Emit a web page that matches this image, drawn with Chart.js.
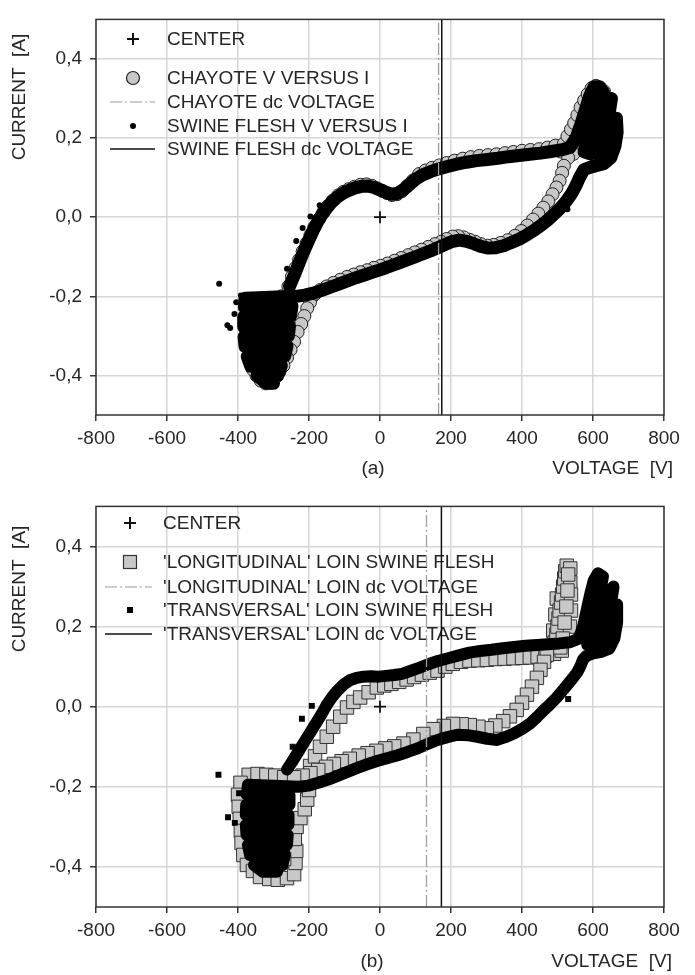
<!DOCTYPE html>
<html>
<head>
<meta charset="utf-8">
<script src="https://cdn.jsdelivr.net/npm/chart.js@4.4.1/dist/chart.umd.min.js"></script>
<style>
  body { margin: 0; background: #fff; }
  .panel { position: relative; width: 695px; }
  canvas { display: block; }
</style>
</head>
<body>
<div class="panel" style="height:487px"><canvas id="chartA" width="695" height="487"></canvas></div>
<div class="panel" style="height:488px"><canvas id="chartB" width="695" height="488"></canvas></div>
<script>
// axis ticks
const xTicks = [-800, -600, -400, -200, 0, 200, 400, 600, 800];
const yTicks = [-0.4, -0.2, 0, 0.2, 0.4];

// (a) chayote, V versus I  [V, A]
const chayoteA = [
  [-190,-0.2],[-197,-0.215],[-205,-0.23],[-213,-0.25],[-222,-0.27],[-232,-0.29],[-242,-0.315],[-252,-0.335],
  [-262,-0.355],[-272,-0.375],[-283,-0.39],[-295,-0.405],[-308,-0.418],[-322,-0.42],[-336,-0.413],[-348,-0.4],
  [-358,-0.385],[-365,-0.365],[-360,-0.34],[-350,-0.31],[-338,-0.28],[-322,-0.25],[-300,-0.225],[-278,-0.2],
  [-258,-0.175],[-248,-0.15],[-238,-0.128],[-228,-0.108],[-218,-0.087],[-207,-0.066],[-196,-0.045],[-185,-0.025],
  [-172,-0.005],[-160,0.012],[-147,0.028],[-133,0.042],[-118,0.055],[-103,0.064],[-88,0.071],[-72,0.077],
  [-55,0.082],[-38,0.083],[-22,0.079],[-8,0.073],[6,0.067],[20,0.061],[34,0.056],[48,0.058],[62,0.066],
  [77,0.079],[93,0.093],[110,0.109],[128,0.118],[147,0.125],[167,0.131],[188,0.137],[210,0.143],[233,0.148],
  [256,0.152],[280,0.155],[304,0.157],[328,0.159],[352,0.162],[376,0.165],[400,0.168],[424,0.17],[448,0.172],
  [472,0.176],[494,0.181],[509,0.166],[518,0.186],[528,0.205],[538,0.222],[547,0.238],[556,0.258],[565,0.278],
  [575,0.295],[585,0.311],[596,0.326],[608,0.332],[620,0.328],[631,0.318],[618,0.3],[605,0.28],[595,0.255],
  [585,0.23],[575,0.2],[560,0.18],[545,0.16],[530,0.15],[518,0.13],[513,0.112],[506,0.092],[497,0.075],
  [486,0.058],[474,0.04],[460,0.024],[446,0.009],[431,-0.006],[415,-0.021],[398,-0.035],[380,-0.047],
  [360,-0.058],[340,-0.065],[320,-0.07],[302,-0.072],[284,-0.068],[268,-0.062],[252,-0.057],[236,-0.051],
  [220,-0.048],[205,-0.049],[188,-0.055],[172,-0.062],[155,-0.068],[136,-0.075],[117,-0.082],[98,-0.089],
  [79,-0.096],[60,-0.103],[41,-0.11],[21,-0.117],[2,-0.123],[-17,-0.128],[-36,-0.134],[-55,-0.139],
  [-74,-0.145],[-93,-0.151],[-112,-0.158],[-131,-0.166],[-150,-0.175],[-168,-0.184],[-182,-0.193]
];

// (a) swine flesh, V versus I, in loop order
const swineA = [
  [-255,-0.175],[-243,-0.15],[-232,-0.125],[-221,-0.1],[-210,-0.077],[-199,-0.055],[-188,-0.033],[-176,-0.012],
  [-163,0.007],[-150,0.023],[-136,0.038],[-120,0.051],[-104,0.061],[-88,0.068],[-70,0.074],[-52,0.078],
  [-34,0.079],[-17,0.075],[0,0.069],[16,0.063],[32,0.058],[48,0.06],[64,0.068],[82,0.082],[100,0.096],
  [120,0.107],[142,0.115],[165,0.122],[190,0.128],[216,0.134],[244,0.139],[272,0.143],[302,0.146],[332,0.149],
  [362,0.153],[392,0.156],[422,0.159],[452,0.162],[482,0.166],[510,0.17],[535,0.176],
  [552,0.2],[566,0.235],[578,0.27],[590,0.305],[603,0.33],[617,0.33],[630,0.315],[620,0.29],[606,0.26],
  [594,0.23],[582,0.195],[575,0.165],[592,0.16],[602,0.195],[614,0.23],[626,0.265],[640,0.295],[652,0.3],
  [646,0.265],[636,0.23],[624,0.195],[612,0.16],[630,0.15],[644,0.18],[656,0.215],[666,0.25],[668,0.215],
  [662,0.18],[650,0.15],[630,0.135],[608,0.13],[588,0.125],[574,0.12],
  [562,0.1],[552,0.08],[540,0.06],[526,0.042],[510,0.025],[493,0.01],[475,-0.005],[456,-0.019],[436,-0.032],
  [415,-0.044],[393,-0.055],[370,-0.064],[348,-0.072],[326,-0.077],[305,-0.078],[284,-0.074],[264,-0.067],
  [244,-0.061],[224,-0.058],[205,-0.061],[186,-0.068],[166,-0.076],[145,-0.084],[123,-0.092],[100,-0.1],
  [76,-0.108],[52,-0.116],[28,-0.124],[4,-0.132],[-20,-0.139],[-44,-0.146],[-68,-0.153],[-92,-0.161],
  [-116,-0.169],[-140,-0.177],[-164,-0.185],[-188,-0.192],[-212,-0.197],[-236,-0.2],
  [-380,-0.205],[-382,-0.228],[-248,-0.225],[-252,-0.25],[-384,-0.252],[-384,-0.277],[-255,-0.275],
  [-258,-0.3],[-383,-0.302],[-380,-0.327],[-262,-0.325],[-268,-0.35],[-374,-0.352],[-364,-0.377],
  [-278,-0.375],[-288,-0.4],[-346,-0.4],[-320,-0.42],[-300,-0.42]
];
const swineStrayA = [
  [-453,-0.168],[-430,-0.273],[-422,-0.28],[-410,-0.245],[-405,-0.215],[-196,0.002],[-218,-0.027],[528,0.02],
  [-236,-0.06],[-170,0.03],[-262,-0.13],[-392,-0.198]
];

// (b) longitudinal loin
const longB = [
  [-370,-0.17],[-345,-0.168],[-320,-0.17],[-295,-0.172],[-270,-0.176],[-393,-0.19],[-400,-0.22],[-398,-0.25],
  [-395,-0.28],[-392,-0.31],[-390,-0.34],[-385,-0.37],[-375,-0.395],[-358,-0.41],[-338,-0.425],[-312,-0.43],
  [-288,-0.432],[-262,-0.428],[-242,-0.418],[-238,-0.39],[-236,-0.36],[-240,-0.33],[-235,-0.3],[-224,-0.278],
  [-212,-0.256],[-205,-0.232],[-200,-0.208],[-216,-0.19],[-350,-0.22],[-300,-0.25],[-340,-0.3],[-290,-0.33],
  [-320,-0.37],[-270,-0.38],[-270,-0.24],
  [-197,-0.148],[-183,-0.124],[-169,-0.1],[-150,-0.075],[-132,-0.05],[-112,-0.025],[-93,-0.002],[-75,0.012],
  [-56,0.023],[-32,0.036],[-9,0.048],[12,0.053],[32,0.057],[54,0.062],[75,0.068],[96,0.074],[118,0.08],
  [140,0.085],[162,0.09],[184,0.1],[205,0.107],[228,0.112],[252,0.115],[277,0.116],[301,0.117],[326,0.119],
  [351,0.12],[376,0.121],[400,0.122],[422,0.123],[444,0.125],[466,0.128],[490,0.132],[512,0.14],
  [480,0.15],[488,0.19],[494,0.23],[498,0.27],[492,0.16],[497,0.18],[500,0.2],[503,0.22],[506,0.24],
  [510,0.26],[513,0.28],[516,0.3],[519,0.32],[522,0.338],[526,0.352],[536,0.345],[536,0.31],[538,0.28],
  [538,0.24],[535,0.2],[530,0.33],[528,0.29],[525,0.25],[520,0.21],[515,0.17],[508,0.148],
  [470,0.13],[462,0.112],[452,0.092],[442,0.072],[428,0.05],[414,0.03],[400,0.01],[385,-0.008],[366,-0.024],
  [347,-0.036],[325,-0.047],[301,-0.054],[277,-0.05],[253,-0.046],[230,-0.044],[206,-0.043],[180,-0.048],
  [150,-0.056],[122,-0.068],[94,-0.082],[66,-0.092],[40,-0.099],[15,-0.104],[-10,-0.11],[-35,-0.116],
  [-60,-0.122],[-85,-0.13],[-108,-0.136],[-130,-0.143],[-152,-0.15],[-174,-0.158],[-196,-0.166],[-218,-0.172],
  [-242,-0.176]
];

// (b) transversal loin, in loop order
const transB = [
  [-262,-0.157],[-248,-0.138],[-234,-0.118],[-220,-0.098],[-206,-0.078],[-192,-0.058],[-178,-0.038],[-163,-0.016],
  [-149,0.006],[-135,0.024],[-120,0.04],[-103,0.055],[-85,0.066],[-66,0.072],[-46,0.075],[-25,0.076],[-4,0.075],
  [18,0.077],[40,0.079],[62,0.082],[85,0.089],[110,0.097],[136,0.106],[163,0.114],[192,0.121],[222,0.128],
  [252,0.135],[282,0.139],[314,0.142],[346,0.146],[378,0.149],[410,0.152],[442,0.154],[474,0.156],[505,0.158],
  [535,0.161],[560,0.17],
  [572,0.2],[582,0.24],[592,0.28],[602,0.315],[614,0.333],[628,0.325],[622,0.295],[610,0.26],[600,0.225],
  [590,0.19],[584,0.155],[602,0.15],[612,0.185],[624,0.22],[636,0.255],[648,0.29],[658,0.3],[652,0.265],
  [642,0.23],[632,0.195],[622,0.16],[640,0.15],[654,0.18],[664,0.22],[668,0.255],[668,0.21],[660,0.17],
  [646,0.145],[624,0.137],[600,0.133],[582,0.127],
  [572,0.118],[564,0.1],[555,0.085],[542,0.07],[527,0.054],[512,0.038],[497,0.022],[479,0.006],[460,-0.01],
  [442,-0.026],[423,-0.042],[401,-0.055],[377,-0.067],[353,-0.076],[330,-0.083],[302,-0.08],[274,-0.075],
  [246,-0.071],[218,-0.07],[190,-0.076],[162,-0.083],[134,-0.093],[106,-0.104],[78,-0.113],[50,-0.121],
  [22,-0.128],[-6,-0.135],[-34,-0.143],[-62,-0.152],[-90,-0.162],[-118,-0.172],[-146,-0.182],[-174,-0.19],
  [-202,-0.197],[-228,-0.2],
  [-372,-0.195],[-375,-0.22],[-255,-0.22],[-255,-0.245],[-377,-0.245],[-378,-0.27],[-258,-0.27],[-258,-0.295],
  [-378,-0.295],[-376,-0.32],[-260,-0.32],[-262,-0.345],[-372,-0.345],[-366,-0.37],[-268,-0.37],[-275,-0.395],
  [-355,-0.395],[-330,-0.412],[-290,-0.412]
];
const transStrayB = [
  [-455,-0.17],[-428,-0.276],[-409,-0.29],[-397,-0.216],[-246,-0.1],[-220,-0.03],[-192,0.002],[530,0.019]
];

// dc voltages [V]
const dcA = { chayote: 165, swine: 174 };
const dcB = { longitudinal: 131, transversal: 173 };
const centerPoint = [[0, 0]];

const legendA = ['CENTER', 'CHAYOTE V VERSUS I', 'CHAYOTE dc VOLTAGE', 'SWINE FLESH V VERSUS I', 'SWINE FLESH dc VOLTAGE'];
const legendB = ['CENTER', "'LONGITUDINAL' LOIN SWINE FLESH", "'LONGITUDINAL' LOIN dc VOLTAGE", "'TRANSVERSAL' LOIN SWINE FLESH", "'TRANSVERSAL' LOIN dc VOLTAGE"];

const FONT = '"Liberation Sans", Arial, sans-serif';
const INK = '#262626';

const toXY = arr => arr.map(p => ({ x: p[0], y: p[1] }));
const vline = v => [{ x: v, y: -0.5 }, { x: v, y: 0.5 }];

function drawSymbol(ctx, kind, x, y, lx0, lx1) {
  ctx.save();
  if (kind === 'plus') {
    ctx.strokeStyle = '#111'; ctx.lineWidth = 2;
    ctx.beginPath(); ctx.moveTo(x - 6, y); ctx.lineTo(x + 6, y); ctx.moveTo(x, y - 6); ctx.lineTo(x, y + 6); ctx.stroke();
  } else if (kind === 'circle') {
    ctx.fillStyle = '#c8c8c8'; ctx.strokeStyle = '#222'; ctx.lineWidth = 1.2;
    ctx.beginPath(); ctx.arc(x, y, 6.5, 0, Math.PI * 2); ctx.fill(); ctx.stroke();
  } else if (kind === 'square') {
    ctx.fillStyle = '#c8c8c8'; ctx.strokeStyle = '#333'; ctx.lineWidth = 1.2;
    ctx.fillRect(x - 6.5, y - 6.5, 13, 13); ctx.strokeRect(x - 6.5, y - 6.5, 13, 13);
  } else if (kind === 'dot') {
    ctx.fillStyle = '#000'; ctx.beginPath(); ctx.arc(x, y, 3, 0, Math.PI * 2); ctx.fill();
  } else if (kind === 'smallsquare') {
    ctx.fillStyle = '#000'; ctx.fillRect(x - 3, y - 3, 6, 6);
  } else if (kind === 'dashdot') {
    ctx.strokeStyle = '#9a9a9a'; ctx.lineWidth = 1.2; ctx.setLineDash([12, 3, 2, 3]);
    ctx.beginPath(); ctx.moveTo(lx0, y); ctx.lineTo(lx1, y); ctx.stroke();
  } else if (kind === 'solid') {
    ctx.strokeStyle = '#111'; ctx.lineWidth = 1.5;
    ctx.beginPath(); ctx.moveTo(lx0, y); ctx.lineTo(lx1, y); ctx.stroke();
  }
  ctx.restore();
}

function makePanel(id, cfg) {
  const decor = {
    id: 'decor',
    beforeDatasetsDraw(chart) {
      const ctx = chart.ctx;
      ctx.save();
      // legend inside the plot
      ctx.font = '19px ' + FONT;
      ctx.textBaseline = 'middle';
      cfg.legend.forEach((txt, i) => {
        const y = cfg.legendY[i];
        drawSymbol(ctx, cfg.symbols[i], cfg.symX, y, cfg.lineX[0], cfg.lineX[1]);
        ctx.fillStyle = INK;
        ctx.fillText(txt, cfg.textX, y + 1);
      });
      ctx.restore();
    },
    afterDraw(chart) {
      const ctx = chart.ctx;
      const a = chart.chartArea;
      ctx.save();
      ctx.strokeStyle = '#333';
      ctx.lineWidth = 1.5;
      ctx.strokeRect(a.left, a.top, a.right - a.left, a.bottom - a.top);
      ctx.font = '19px ' + FONT;
      ctx.fillStyle = INK;
      ctx.textBaseline = 'middle';
      ctx.textAlign = 'center';
      ctx.fillText(cfg.tag, cfg.tagPos[0], cfg.tagPos[1]);
      ctx.textAlign = 'right';
      ctx.fillText('VOLTAGE  [V]', cfg.xTitlePos[0], cfg.xTitlePos[1]);
      ctx.translate(cfg.yTitlePos[0], cfg.yTitlePos[1]);
      ctx.rotate(-Math.PI / 2);
      ctx.textAlign = 'center';
      ctx.fillText('CURRENT  [A]', 0, 0);
      ctx.restore();
    }
  };

  const tickFont = { family: FONT, size: 19 };
  return new Chart(document.getElementById(id), {
    type: 'scatter',
    data: { datasets: cfg.datasets },
    options: {
      responsive: false,
      animation: false,
      devicePixelRatio: 1,
      layout: { padding: { top: cfg.padTop, right: 31, left: 0, bottom: 0 } },
      plugins: { legend: { display: false }, tooltip: { enabled: false } },
      scales: {
        x: {
          type: 'linear', min: -800, max: 800,
          afterBuildTicks: s => { s.ticks = xTicks.map(v => ({ value: v })); },
          afterFit: s => { s.height = cfg.xHeight; },
          ticks: { font: tickFont, color: INK, padding: 6, maxRotation: 0, autoSkip: false },
          grid: { color: '#d6d6d6', lineWidth: 1.5, tickColor: '#333', tickWidth: 1.5, tickLength: 6 },
          border: { display: false }
        },
        y: {
          type: 'linear', min: -0.5, max: 0.5,
          afterBuildTicks: s => { s.ticks = yTicks.map(v => ({ value: v })); },
          afterFit: s => { s.width = 96; },
          ticks: { font: tickFont, color: INK, padding: 8, callback: v => v.toFixed(1).replace('.', ',') },
          grid: { color: '#d6d6d6', lineWidth: 1.5, tickColor: '#333', tickWidth: 1.5, tickLength: 6 },
          border: { display: false }
        }
      }
    },
    plugins: [decor]
  });
}

const centerSet = {
  label: 'CENTER', data: toXY(centerPoint), pointStyle: 'cross', pointRadius: 6,
  pointBorderColor: '#111', pointBorderWidth: 1.8, order: 0
};

makePanel('chartA', {
  padTop: 7, xHeight: 72,
  legend: legendA,
  symbols: ['plus', 'circle', 'dashdot', 'dot', 'solid'],
  legendY: [39, 78, 102, 126, 149], symX: 133, textX: 167, lineX: [110, 155],
  tag: '(a)', tagPos: [373, 469], xTitlePos: [673, 469], yTitlePos: [20, 97],
  datasets: [
    centerSet,
    { label: 'CHAYOTE dc VOLTAGE', data: vline(dcA.chayote), showLine: true, borderColor: '#9a9a9a', borderWidth: 1.3,
      borderDash: [12, 3, 2, 3], pointRadius: 0, order: 1 },
    { label: 'SWINE FLESH dc VOLTAGE', data: vline(dcA.swine), showLine: true, borderColor: '#111', borderWidth: 1.5,
      pointRadius: 0, order: 1 },
    { label: 'SWINE FLESH V VERSUS I', data: toXY(swineA), showLine: true, borderColor: '#000', borderWidth: 13,
      borderJoinStyle: 'round', borderCapStyle: 'round', tension: 0,
      pointRadius: 3, pointBackgroundColor: '#000', pointBorderWidth: 0, order: 2 },
    { label: 'SWINE FLESH V VERSUS I', data: toXY(swineStrayA), pointRadius: 3, pointBackgroundColor: '#000',
      pointBorderWidth: 0, order: 2 },
    { label: 'CHAYOTE V VERSUS I', data: toXY(chayoteA), pointStyle: 'circle', pointRadius: 6.5,
      pointBackgroundColor: '#c8c8c8', pointBorderColor: '#222', pointBorderWidth: 1, order: 3 }
  ]
});

makePanel('chartB', {
  padTop: 12, xHeight: 68,
  legend: legendB,
  symbols: ['plus', 'square', 'dashdot', 'smallsquare', 'solid'],
  legendY: [36, 75, 100, 123, 147], symX: 130, textX: 163, lineX: [105, 152],
  tag: '(b)', tagPos: [372, 475], xTitlePos: [672, 475], yTitlePos: [20, 102],
  datasets: [
    centerSet,
    { label: "'LONGITUDINAL' LOIN dc VOLTAGE", data: vline(dcB.longitudinal), showLine: true, borderColor: '#a0a0a0',
      borderWidth: 1.3, borderDash: [12, 3, 2, 3], pointRadius: 0, order: 1 },
    { label: "'TRANSVERSAL' LOIN dc VOLTAGE", data: vline(dcB.transversal), showLine: true, borderColor: '#111',
      borderWidth: 1.5, pointRadius: 0, order: 1 },
    { label: "'TRANSVERSAL' LOIN SWINE FLESH", data: toXY(transB), showLine: true, borderColor: '#000', borderWidth: 12,
      borderJoinStyle: 'round', borderCapStyle: 'round', tension: 0,
      pointStyle: 'rect', pointRadius: 4.2, pointBackgroundColor: '#000', pointBorderWidth: 0, order: 2 },
    { label: "'TRANSVERSAL' LOIN SWINE FLESH", data: toXY(transStrayB), pointStyle: 'rect', pointRadius: 4.2,
      pointBackgroundColor: '#000', pointBorderWidth: 0, order: 2 },
    { label: "'LONGITUDINAL' LOIN SWINE FLESH", data: toXY(longB), pointStyle: 'rect', pointRadius: 9.5,
      pointBackgroundColor: '#c8c8c8', pointBorderColor: '#333', pointBorderWidth: 1, order: 3 }
  ]
});
</script>
</body>
</html>
